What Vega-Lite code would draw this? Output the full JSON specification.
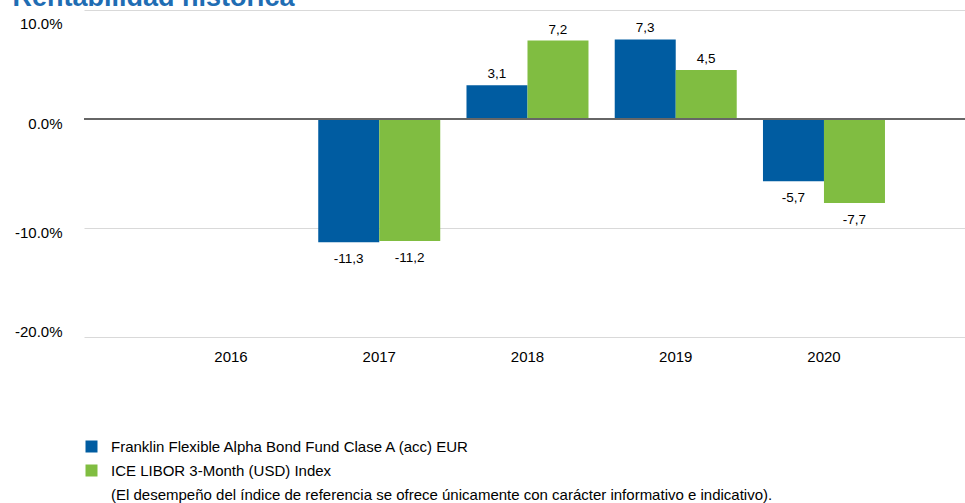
{
  "$schema": "https://vega.github.io/schema/vega-lite/v6.json",
  "autosize": {"type": "none"},
  "width": 881,
  "height": 327,
  "padding": {"left": 84, "top": 10, "right": 0, "bottom": 166},
  "background": "white",
  "title": {
    "text": "Rentabilidad histórica",
    "anchor": "start",
    "frame": "bounds",
    "baseline": "alphabetic",
    "offset": 0,
    "dy": 23,
    "dx": -2,
    "font": "Liberation Sans",
    "fontSize": 27,
    "fontWeight": "bold",
    "color": "#1F6DB3"
  },
  "config": {
    "locale": {"number": {"decimal": ",", "thousands": ".", "grouping": [3], "currency": ["", " €"], "minus": "-"}},
    "view": {"stroke": null},
    "font": "Liberation Sans",
    "axis": {"labelFont": "Liberation Sans", "labelColor": "#000000"},
    "legend": {"labelFont": "Liberation Sans"}
  },
  "data": {
    "values": [
      {"year": "2017", "series": "Franklin Flexible Alpha Bond Fund Clase A (acc) EUR", "value": -11.3},
      {"year": "2017", "series": "ICE LIBOR 3-Month (USD) Index", "value": -11.2},
      {"year": "2018", "series": "Franklin Flexible Alpha Bond Fund Clase A (acc) EUR", "value": 3.1},
      {"year": "2018", "series": "ICE LIBOR 3-Month (USD) Index", "value": 7.2},
      {"year": "2019", "series": "Franklin Flexible Alpha Bond Fund Clase A (acc) EUR", "value": 7.3},
      {"year": "2019", "series": "ICE LIBOR 3-Month (USD) Index", "value": 4.5},
      {"year": "2020", "series": "Franklin Flexible Alpha Bond Fund Clase A (acc) EUR", "value": -5.7},
      {"year": "2020", "series": "ICE LIBOR 3-Month (USD) Index", "value": -7.7}
    ]
  },
  "encoding": {
    "x": {
      "field": "year",
      "type": "nominal",
      "scale": {"domain": ["2016", "2017", "2018", "2019", "2020"], "paddingInner": 0.177, "paddingOuter": 0.56, "align": 0.518},
      "axis": {
        "title": null,
        "labelAngle": 0,
        "ticks": false,
        "domain": false,
        "labelPadding": 12,
        "labelFontSize": 15,
        "labelColor": "#000000"
      }
    },
    "xOffset": {
      "field": "series",
      "type": "nominal",
      "scale": {"domain": ["Franklin Flexible Alpha Bond Fund Clase A (acc) EUR", "ICE LIBOR 3-Month (USD) Index"], "paddingInner": 0, "paddingOuter": 0}
    },
    "y": {
      "field": "value",
      "type": "quantitative",
      "scale": {"domain": [-20, 10], "nice": false, "zero": false},
      "axis": {
        "title": null,
        "values": [-20, -10, 0, 10],
        "format": ".1f",
        "labelExpr": "replace(datum.label, ',', '.') + '%'",
        "ticks": false,
        "domain": false,
        "labelPadding": 22,
        "labelFontSize": 15,
        "labelColor": "#000000",
        "labelBaseline": "middle",
        "labelOffset": {"expr": "datum.value == 10 ? 13 : (datum.value == -20 ? -6 : 4)"},
        "gridColor": "#D9D9D9",
        "gridWidth": 1
      }
    }
  },
  "layer": [
    {
      "mark": {"type": "bar"},
      "encoding": {
        "color": {
          "field": "series",
          "type": "nominal",
          "scale": {
            "domain": [
              "Franklin Flexible Alpha Bond Fund Clase A (acc) EUR",
              "ICE LIBOR 3-Month (USD) Index",
              "(El desempeño del índice de referencia se ofrece únicamente con carácter informativo e indicativo)."
            ],
            "range": ["#005CA1", "#80BD41", "rgba(255,255,255,0)"]
          },
          "legend": {
            "title": null,
            "orient": "none",
            "legendX": 0,
            "legendY": 429,
            "direction": "vertical",
            "padding": 0,
            "symbolType": "square",
            "symbolSize": 144,
            "symbolStrokeWidth": 0,
            "symbolOpacity": 1,
            "labelFontSize": 15,
            "labelColor": "#000000",
            "labelOffset": 12,
            "labelLimit": 900,
            "rowPadding": 8
          }
        }
      }
    },
    {
      "mark": {"type": "rule", "color": "#666666", "strokeWidth": 2},
      "encoding": {"y": {"datum": 0}, "x": null, "xOffset": null}
    },
    {
      "transform": [{"filter": "datum.value >= 0"}],
      "mark": {"type": "text", "baseline": "alphabetic", "dy": -7, "fontSize": 13.5, "color": "#000000"},
      "encoding": {"text": {"field": "value", "type": "quantitative", "format": ".1f"}}
    },
    {
      "transform": [{"filter": "datum.value < 0"}],
      "mark": {"type": "text", "baseline": "top", "dy": 10, "fontSize": 13.5, "color": "#000000"},
      "encoding": {"text": {"field": "value", "type": "quantitative", "format": ".1f"}}
    }
  ]
}
